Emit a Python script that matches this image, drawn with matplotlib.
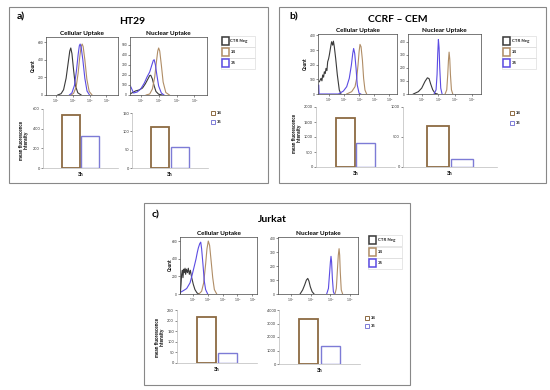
import matplotlib
matplotlib.use("Agg")
import matplotlib.pyplot as plt
from matplotlib.patches import Rectangle

plt.rcParams['font.family'] = ['Lato', 'DejaVu Sans']

# ---- data ----
panel_tags = ["a)", "b)", "c)"]
cell_lines = ["HT29", "CCRF \u2013 CEM", "Jurkat"]
hist_names = ["CTR Neg", "34", "35"]
bar_names = ["34", "35"]
bar_xlabel = "3h"

cellular_mfi_34 = [536, 1650, 216]
cellular_mfi_35 = [321, 808, 47]
nuclear_mfi_34 = [113, 691, 3333]
nuclear_mfi_35 = [58, 129, 1358]

cell_bar_ticks = [[0, 200, 400, 600], [0, 500, 1000, 1500, 2000], [0, 50, 100, 150, 200, 250]]
nuc_bar_ticks = [[0, 50, 100, 150], [0, 500, 1000], [0, 1000, 2000, 3000, 4000]]

# histogram traces: x in log10 decades, y = count
ht29_cell_ctr_x = [1.1, 1.3, 1.45, 1.6, 1.72, 1.82, 1.88, 1.95, 2.05, 2.15, 2.3, 2.5]
ht29_cell_ctr_y = [0, 15, 60, 190, 360, 500, 535, 470, 280, 110, 25, 0]
ht29_cell_34_x = [1.9, 2.05, 2.2, 2.32, 2.42, 2.5, 2.56, 2.62, 2.72, 2.84, 2.98, 3.15]
ht29_cell_34_y = [0, 20, 90, 250, 440, 555, 580, 550, 400, 180, 40, 0]
ht29_cell_35_x = [1.8, 1.95, 2.1, 2.22, 2.32, 2.39, 2.44, 2.5, 2.6, 2.72, 2.85, 3.0]
ht29_cell_35_y = [0, 25, 110, 280, 460, 560, 580, 545, 400, 190, 45, 0]

ht29_nuc_ctr_x = [0.45, 0.7, 0.9, 1.1, 1.25, 1.4, 1.5, 1.56, 1.65, 1.75, 1.85, 2.0, 2.2]
ht29_nuc_ctr_y = [15, 40, 50, 70, 110, 160, 195, 197, 160, 90, 35, 8, 0]
ht29_nuc_34_x = [1.3, 1.5, 1.65, 1.78, 1.88, 1.95, 2.0, 2.06, 2.15, 2.25, 2.4, 2.6]
ht29_nuc_34_y = [0, 10, 60, 180, 340, 440, 470, 440, 300, 130, 25, 0]
ht29_nuc_35_x = [0.45, 0.6, 0.8, 1.0, 1.2, 1.35, 1.5, 1.62, 1.7, 1.75, 1.82, 1.9, 2.0, 2.15, 2.3]
ht29_nuc_35_y = [80, 20, 30, 60, 120, 180, 230, 300, 345, 353, 300, 200, 90, 20, 0]

cem_cell_ctr_x = [0.36, 0.47, 0.53, 0.58, 0.64, 0.69, 0.75, 0.8, 0.86, 0.91, 0.97, 1.02, 1.11,
                  1.17, 1.24, 1.29, 1.35, 1.44, 1.55, 1.68, 1.79]
cem_cell_ctr_y = [84, 107, 90, 130, 115, 152, 140, 175, 160, 220, 240, 266, 323,
                  357, 334, 361, 323, 243, 130, 27, 0]
cem_cell_34_x = [2.17, 2.5, 2.72, 2.83, 2.92, 2.99, 3.05, 3.12, 3.21, 3.29, 3.38, 3.49]
cem_cell_34_y = [0, 16, 50, 107, 198, 289, 339, 323, 232, 107, 27, 0]
cem_cell_35_x = [0.32, 0.34, 1.62, 1.95, 2.17, 2.34, 2.48, 2.57, 2.63, 2.7, 2.79, 2.87, 2.99, 3.1]
cem_cell_35_y = [60, 0, 0, 20, 50, 107, 198, 277, 311, 277, 175, 61, 5, 0]

cem_nuc_ctr_x = [0.5, 0.8, 1.0, 1.2, 1.34, 1.44, 1.54, 1.66, 1.8, 1.94]
cem_nuc_ctr_y = [0, 18, 45, 97, 124, 118, 76, 32, 5, 0]
cem_nuc_34_x = [2.4, 2.5, 2.56, 2.6, 2.64, 2.68, 2.72, 2.78, 2.86]
cem_nuc_34_y = [0, 32, 150, 255, 321, 268, 150, 32, 0]
cem_nuc_35_x = [1.74, 1.86, 1.92, 1.96, 2.0, 2.04, 2.08, 2.14, 2.22]
cem_nuc_35_y = [0, 32, 150, 308, 418, 355, 202, 45, 0]

jur_cell_ctr_x = [0.14, 0.19, 0.23, 0.28, 0.32, 0.37, 0.41, 0.46, 0.5, 0.55, 0.62, 0.68, 0.75,
                  0.82, 0.91, 1.02, 1.13, 1.27, 1.4]
jur_cell_ctr_y = [0, 108, 223, 269, 185, 281, 242, 292, 223, 281, 242, 292, 223,
                  269, 185, 108, 50, 12, 0]
jur_cell_34_x = [1.4, 1.58, 1.72, 1.85, 1.94, 2.03, 2.12, 2.21, 2.33, 2.44, 2.6]
jur_cell_34_y = [0, 31, 127, 338, 511, 600, 550, 396, 185, 50, 0]
jur_cell_35_x = [0.19, 0.35, 0.57, 0.8, 0.95, 1.09, 1.2, 1.29, 1.36, 1.45, 1.52, 1.58, 1.67,
                 1.76, 1.85, 1.99]
jur_cell_35_y = [23, 38, 62, 127, 223, 319, 396, 473, 523, 569, 588, 512, 338,
                 146, 50, 0]

jur_nuc_ctr_x = [1.46, 1.59, 1.69, 1.78, 1.85, 1.91, 1.98, 2.07, 2.17]
jur_nuc_ctr_y = [0, 29, 64, 100, 112, 93, 52, 17, 0]
jur_nuc_34_x = [3.23, 3.3, 3.35, 3.4, 3.44, 3.47, 3.5, 3.55, 3.62]
jur_nuc_34_y = [0, 40, 160, 279, 326, 279, 160, 29, 0]
jur_nuc_35_x = [2.81, 2.9, 2.95, 3.0, 3.03, 3.06, 3.1, 3.15, 3.2]
jur_nuc_35_y = [0, 40, 136, 231, 271, 231, 112, 17, 0]

# ---- styling ----
W, H = 550, 390
c_ctr, c_34, c_35 = "#3a3a3a", "#b08d66", "#5b4be3"
bar_34, bar_35 = "#8c6a42", "#7d7bd6"

fig = plt.figure(figsize=(5.5, 3.9), dpi=100)


def px_axes(x0, y0, x1, y1):
    return fig.add_axes([x0 / W, 1 - y1 / H, (x1 - x0) / W, (y1 - y0) / H])


def ftext(x, y, s, **kw):
    fig.text(x / W, 1 - y / H, s, **kw)


def frect(x0, y0, x1, y1, **kw):
    fig.add_artist(Rectangle((x0 / W, 1 - y1 / H), (x1 - x0) / W, (y1 - y0) / H,
                             transform=fig.transFigure, **kw))


def histo(box, traces, xlim, nx, yticks, ylim, title):
    ax = px_axes(*box)
    for (xs, ys), col in zip(traces, [c_ctr, c_34, c_35]):
        ax.plot(xs, ys, color=col, lw=0.8)
    ax.set_xlim(*xlim)
    ax.set_ylim(0, ylim)
    ax.set_xticks(range(1, nx + 1))
    ax.set_xticklabels([r"$10^{%d}$" % k for k in range(1, nx + 1)])
    ax.set_yticks(yticks)
    ax.tick_params(labelsize=2.3, length=1.2, width=0.4, pad=0.8, colors="#333")
    for s in ax.spines.values():
        s.set_linewidth(0.5)
        s.set_color("#444")
    ax.set_title(title, fontsize=4.6, fontweight="bold", pad=1.5)
    return ax


def barplot(box, v34, v35, ticks):
    ax = px_axes(*box)
    ax.bar([-0.26, 0.26], [v34, v35], width=0.47, facecolor="white",
           edgecolor=[bar_34, bar_35], linewidth=[1.3, 1.0])
    ax.set_xlim(-1, 1)
    ax.set_ylim(0, ticks[-1])
    ax.set_yticks(ticks)
    ax.set_xticks([0])
    ax.set_xticklabels([bar_xlabel], fontsize=3.6, fontweight="bold")
    ax.tick_params(axis="y", labelsize=2.8, length=1.2, width=0.4, pad=1, colors="#333")
    ax.tick_params(axis="x", length=0, pad=3)
    for k in ["top", "right"]:
        ax.spines[k].set_visible(False)
    for k in ["left", "bottom"]:
        ax.spines[k].set_linewidth(0.5)
        ax.spines[k].set_color("#bbbbbb")
    return ax


def hist_legend(x0, rows, x1):
    for y, col, name in zip(rows, [c_ctr, c_34, c_35], hist_names):
        frect(x0, y - 5.5, x1, y + 5.5, fill=False, edgecolor="#dddddd", lw=0.5)
        frect(x0 + 1, y - 4, x0 + 8, y + 4, fill=False, edgecolor=col, lw=1.1)
        ftext(x0 + 9.5, y, name, fontsize=3.2, fontweight="bold", va="center", color="#222")


def bar_legend(x0, rows):
    for y, col, name in zip(rows, [bar_34, bar_35], bar_names):
        frect(x0, y - 2, x0 + 4, y + 2, fill=False, edgecolor=col, lw=0.7)
        ftext(x0 + 5.5, y, name, fontsize=3.0, fontweight="bold", va="center", color="#222")


# panel frames
frect(9, 7, 268, 183, fill=False, edgecolor="#888888", lw=0.8)
frect(279, 7, 546, 183, fill=False, edgecolor="#888888", lw=0.8)
frect(144, 203, 410, 385, fill=False, edgecolor="#888888", lw=0.8)

# ---- panel a: HT29 ----
ftext(21, 17, panel_tags[0], fontsize=7.5, fontweight="bold", ha="center", va="center")
ftext(132, 21, cell_lines[0], fontsize=7.5, fontweight="bold", ha="center", va="center")
histo((46, 37, 118, 95), [(ht29_cell_ctr_x, ht29_cell_ctr_y), (ht29_cell_34_x, ht29_cell_34_y),
                          (ht29_cell_35_x, ht29_cell_35_y)],
      (0.4, 4.7), 4, [0, 200, 400, 600], 660, "Cellular Uptake")
histo((130, 37, 207, 95), [(ht29_nuc_ctr_x, ht29_nuc_ctr_y), (ht29_nuc_34_x, ht29_nuc_34_y),
                           (ht29_nuc_35_x, ht29_nuc_35_y)],
      (0.4, 4.7), 4, [0, 100, 200, 300, 400, 500], 580, "Nuclear Uptake")
hist_legend(221, [41, 52, 63], 255)
barplot((43, 109, 118, 168), cellular_mfi_34[0], cellular_mfi_35[0], cell_bar_ticks[0])
barplot((132, 113, 208, 168), nuclear_mfi_34[0], nuclear_mfi_35[0], nuc_bar_ticks[0])
bar_legend(211, [113, 122])
ftext(33, 66, "Count", fontsize=3.4, fontweight="bold", rotation=90, ha="center", va="center")
ftext(24, 140, "mean fluorescence\nintensity", fontsize=3.4, fontweight="bold",
      rotation=90, ha="center", va="center", linespacing=1.1)

# ---- panel b: CCRF-CEM ----
ftext(294, 17, panel_tags[1], fontsize=7.5, fontweight="bold", ha="center", va="center")
ftext(398, 20, cell_lines[1], fontsize=7.5, fontweight="bold", ha="center", va="center")
histo((318, 34, 397, 94), [(cem_cell_ctr_x, cem_cell_ctr_y), (cem_cell_34_x, cem_cell_34_y),
                           (cem_cell_35_x, cem_cell_35_y)],
      (0.27, 5.5), 5, [0, 100, 200, 300, 400], 410, "Cellular Uptake")
histo((408, 34, 481, 94), [(cem_nuc_ctr_x, cem_nuc_ctr_y), (cem_nuc_34_x, cem_nuc_34_y),
                           (cem_nuc_35_x, cem_nuc_35_y)],
      (0.18, 4.55), 4, [0, 100, 200, 300, 400], 460, "Nuclear Uptake")
hist_legend(502, [41, 52, 63], 536)
barplot((316, 107, 395, 167), cellular_mfi_34[1], cellular_mfi_35[1], cell_bar_ticks[1])
barplot((403, 107, 497, 167), nuclear_mfi_34[1], nuclear_mfi_35[1], nuc_bar_ticks[1])
bar_legend(510, [113, 123])
ftext(305, 64, "Count", fontsize=3.4, fontweight="bold", rotation=90, ha="center", va="center")
ftext(297, 133, "mean fluorescence\nintensity", fontsize=3.4, fontweight="bold",
      rotation=90, ha="center", va="center", linespacing=1.1)

# ---- panel c: Jurkat ----
ftext(156, 215, panel_tags[2], fontsize=7.5, fontweight="bold", ha="center", va="center")
ftext(272, 220, cell_lines[2], fontsize=7.5, fontweight="bold", ha="center", va="center")
histo((180, 237, 257, 294), [(jur_cell_ctr_x, jur_cell_ctr_y), (jur_cell_34_x, jur_cell_34_y),
                             (jur_cell_35_x, jur_cell_35_y)],
      (0.12, 5.32), 5, [0, 200, 400, 600], 646, "Cellular Uptake")
histo((278, 237, 358, 294), [(jur_nuc_ctr_x, jur_nuc_ctr_y), (jur_nuc_34_x, jur_nuc_34_y),
                             (jur_nuc_35_x, jur_nuc_35_y)],
      (0.34, 4.4), 4, [0, 100, 200, 300, 400], 410, "Nuclear Uptake")
hist_legend(368, [240, 252, 263], 402)
barplot((177, 310, 257, 363), cellular_mfi_34[2], cellular_mfi_35[2], cell_bar_ticks[2])
barplot((279, 310, 360, 364), nuclear_mfi_34[2], nuclear_mfi_35[2], nuc_bar_ticks[2])
bar_legend(365, [318, 326])
ftext(170, 265, "Count", fontsize=3.4, fontweight="bold", rotation=90, ha="center", va="center")
ftext(160, 337, "mean fluorescence\nintensity", fontsize=3.4, fontweight="bold",
      rotation=90, ha="center", va="center", linespacing=1.1)

fig.savefig("out.png", dpi=100)
